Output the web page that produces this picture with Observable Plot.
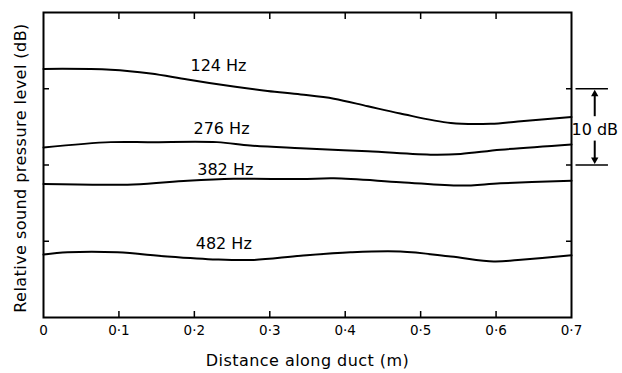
<!DOCTYPE html>
<html><head><meta charset="utf-8">
<script src="https://cdn.jsdelivr.net/npm/d3@7"></script>
<script src="https://cdn.jsdelivr.net/npm/@observablehq/plot@0.6"></script>
<style>body{margin:0;background:#fff} .lbl text{letter-spacing:0.45px}</style>
</head><body><div id="chart"></div>
<script>
// Distance along duct (m) and relative SPL (dB)
const x124 = [0, 0.089, 0.142, 0.191, 0.252, 0.297, 0.341, 0.385, 0.430, 0.473, 0.54, 0.593, 0.629, 0.7];
const y124 = [32.6, 32.5, 32.0, 31.2, 30.3, 29.7, 29.25, 28.7, 27.7, 26.75, 25.5, 25.4, 25.7, 26.3];
const x276 = [0, 0.089, 0.142, 0.23, 0.274, 0.341, 0.43, 0.517, 0.553, 0.606, 0.7];
const y276 = [22.3, 23.0, 23.0, 23.0, 22.55, 22.2, 21.8, 21.35, 21.45, 22.0, 22.7];
const x382 = [0, 0.119, 0.191, 0.252, 0.341, 0.385, 0.473, 0.553, 0.606, 0.7];
const y382 = [17.5, 17.45, 17.95, 18.2, 18.15, 18.25, 17.75, 17.3, 17.6, 17.95];
const x482 = [0, 0.032, 0.098, 0.164, 0.23, 0.279, 0.341, 0.407, 0.473, 0.54, 0.597, 0.629, 0.7];
const y482 = [8.25, 8.55, 8.55, 8.0, 7.6, 7.55, 8.1, 8.55, 8.65, 8.0, 7.35, 7.55, 8.15];
const seriesNames = ["124 Hz", "276 Hz", "382 Hz", "482 Hz"];
const labelX = [0.232, 0.236, 0.241, 0.239];
const labelY = [33.05, 24.8, 19.3, 9.7];
const xTicks = [0, 0.1, 0.2, 0.3, 0.4, 0.5, 0.6, 0.7];
const yTicks = [10, 20, 30];
const scaleLevels = [20, 30];
const scaleText = ["10 dB"];

const toRows = (xs, ys) => xs.map((x, i) => ({x, y: ys[i]}));
const series = [toRows(x124, y124), toRows(x276, y276), toRows(x382, y382), toRows(x482, y482)];
const labels = seriesNames.map((name, i) => ({name, x: labelX[i], y: labelY[i]}));
const fmt = d => d === 0 ? "0" : "0·" + Math.round(d * 10);
const none = () => "";

const barX1 = 0.706, barX2 = 0.749, barXc = 0.7308;
const bars = scaleLevels.map(v => ({v}));
const shafts = [{y1: 26.4, y2: 29.4}, {y1: 23.2, y2: 20.6}];
const heads = [{y: 29.3, r: 0}, {y: 20.7, r: 180}];

const plot = Plot.plot({
  width: 622, height: 373,
  marginLeft: 43, marginRight: 51, marginTop: 12, marginBottom: 56,
  x: {domain: [0, 0.7], label: null},
  y: {domain: [0, 40], label: null},
  style: {fontFamily: "DejaVu Sans", color: "black", background: "white"},
  marks: [
    Plot.axisX(xTicks, {anchor: "bottom", tickSize: 0, tickPadding: 8, tickFormat: fmt, fontSize: 13.5, label: null}),
    Plot.axisX(xTicks.slice(1, -1), {anchor: "bottom", tickSize: -6, strokeWidth: 1.5, tickFormat: none, label: null}),
    Plot.axisX(xTicks.slice(1, -1), {anchor: "top", tickSize: -6, strokeWidth: 1.5, tickFormat: none, label: null}),
    Plot.axisY(yTicks, {anchor: "left", tickSize: -6, strokeWidth: 1.5, tickFormat: none, label: null}),
    Plot.axisY(yTicks, {anchor: "right", tickSize: -6, strokeWidth: 1.5, tickFormat: none, label: null}),
    Plot.frame({strokeWidth: 2}),
    ...series.map(s => Plot.line(s, {x: "x", y: "y", strokeWidth: 2, curve: "catmull-rom"})),
    Plot.text(labels, {x: "x", y: "y", text: "name", fontSize: 16, fill: "black"}),
    Plot.ruleY(bars, {y: "v", x1: () => barX1, x2: () => barX2, strokeWidth: 1.5}),
    Plot.link(shafts, {x1: () => barXc, x2: () => barXc, y1: "y1", y2: "y2", strokeWidth: 2}),
    Plot.dot(heads, {x: () => barXc, y: "y", rotate: "r", symbol: "triangle2", r: 3.5, fill: "black", stroke: null}),
    Plot.text(scaleText, {x: () => barXc, y: () => 24.6, text: d => d, fontSize: 16, fill: "black"}),
    Plot.text(["Relative sound pressure level (dB)"], {frameAnchor: "left", textAnchor: "middle", rotate: -90, dx: -23, dy: 3, fontSize: 16, fill: "black", text: d => d, className: "lbl"}),
    Plot.text(["Distance along duct (m)"], {frameAnchor: "bottom", dy: 48, fontSize: 16, fill: "black", text: d => d, className: "lbl"})
  ]
});
document.getElementById("chart").append(plot);
</script>
</body></html>
